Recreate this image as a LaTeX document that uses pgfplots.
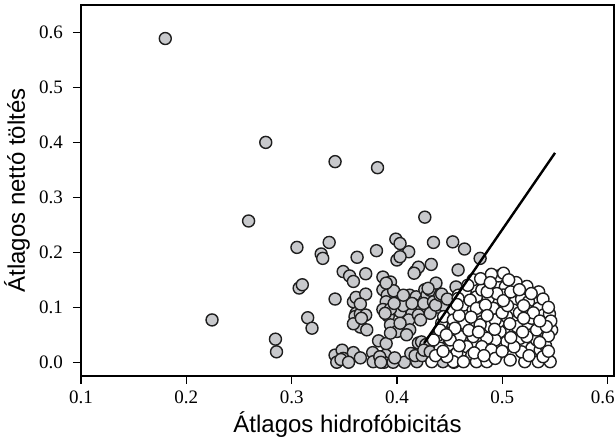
\documentclass[border=0pt]{standalone}
\usepackage{pgfplots}
\pgfplotsset{compat=1.18}
\usepackage{pgfplotstable}
\usepackage{fontspec}
\setmainfont{Liberation Serif}
\newfontfamily\arialf{Liberation Sans}
\definecolor{grayfill}{RGB}{200,201,204}
\definecolor{edge}{RGB}{30,30,30}

\pgfplotstableread{
x y
0.180 0.589
0.2244 0.077
0.2591 0.257
0.2754 0.400
0.2846 0.042
0.2856 0.019
0.3071 0.135
0.3101 0.141
0.3050 0.209
0.3152 0.081
0.3193 0.062
0.3280 0.197
0.3295 0.189
0.3356 0.218
0.3412 0.365
0.3815 0.354
0.3621 0.191
0.3805 0.203
0.3989 0.224
0.3999 0.186
0.4111 0.201
0.4029 0.216
0.4264 0.264
0.4346 0.218
0.4529 0.219
0.4641 0.206
0.4789 0.189
0.4325 0.178
0.4172 0.165
0.4203 0.173
0.4580 0.168
0.3489 0.165
0.3550 0.157
0.3586 0.147
0.3703 0.161
0.3866 0.155
0.3938 0.146
0.4162 0.162
0.3412 0.115
0.3586 0.110
0.3611 0.118
0.3703 0.124
0.3866 0.132
0.3907 0.122
0.3968 0.130
0.3897 0.110
0.3978 0.104
0.4121 0.122
0.4182 0.119
0.4264 0.132
0.4264 0.113
0.4121 0.104
0.4223 0.104
0.3611 0.089
0.3866 0.096
0.4029 0.092
0.4142 0.089
0.4284 0.092
0.3601 0.083
0.3652 0.088
0.3652 0.064
0.3586 0.070
0.3917 0.084
0.3938 0.068
0.3999 0.056
0.4111 0.077
0.4203 0.086
0.4121 0.059
0.3825 0.039
0.3412 0.013
0.3479 0.022
0.3489 0.007
0.3586 0.0175
0.3769 0.0175
0.3774 0.001
0.3892 0.013
0.3876 0.000
0.3963 0.000
0.4070 0.000
0.4203 0.035
0.4233 0.037
0.4131 0.016
0.4188 0.001
0.3428 0.000
0.3468 0.005
0.3540 0.000
0.3652 0.008
0.3713 0.059
0.3703 0.086
0.3662 0.080
0.3652 0.106
0.3836 0.010
0.3846 0.000
0.3897 0.034
0.3938 0.053
0.3978 0.008
0.4091 0.050
0.4172 0.012
0.4239 0.012
0.4274 0.032
0.4310 0.030
0.4407 0.012
0.4539 0.000
0.4611 0.069
0.4397 0.100
0.4448 0.103
0.3938 0.097
0.4060 0.103
0.3897 0.144
0.4142 0.107
0.3973 0.107
0.4284 0.122
0.4315 0.131
0.4254 0.107
0.4346 0.110
0.3887 0.089
0.4223 0.077
0.4315 0.089
0.4029 0.071
0.4366 0.104
0.4407 0.122
0.4519 0.071
0.4254 0.022
0.4315 0.019
0.4437 0.001
0.4370 0.144
0.4295 0.1345
0.4424 0.124
0.4060 0.122
0.4560 0.137
0.4478 0.115
0.4029 0.192
}\graydata

\pgfplotstableread{
x y
0.4964 0.157
0.5011 0.162
0.5029 0.1375
0.5011 0.1224
0.4947 0.107
0.5121 0.110
0.5182 0.1145
0.5248 0.110
0.5341 0.098
0.5391 0.086
0.5106 0.095
0.5233 0.095
0.5011 0.077
0.4917 0.086
0.5121 0.062
0.5264 0.0496
0.5468 0.0587
0.4978 0.0556
0.5042 0.0375
0.5169 0.0436
0.5280 0.0255
0.5359 0.0224
0.4947 0.013
0.5074 0.004
0.5213 0.001
0.5341 0.001
0.5454 0.001
0.5182 0.019
0.5325 0.0405
0.4932 0.0405
0.4583 0.122
0.4662 0.119
0.4754 0.119
0.4866 0.116
0.4947 0.125
0.4631 0.104
0.4723 0.095
0.4805 0.101
0.4916 0.098
0.4519 0.089
0.4424 0.071
0.4631 0.071
0.4805 0.074
0.4884 0.065
0.4964 0.074
0.4394 0.0496
0.4505 0.0527
0.4601 0.0466
0.4723 0.0466
0.4853 0.0436
0.4488 0.0315
0.4662 0.0284
0.4805 0.0284
0.4896 0.0224
0.4410 0.0255
0.4567 0.0164
0.4710 0.0133
0.4330 0.001
0.4535 0.001
0.4631 0.001
0.4754 0.001
0.4853 0.001
0.4932 0.007
0.4473 0.010
0.4723 0.150
0.4805 0.1315
0.4647 0.128
0.4580 0.116
0.4694 0.113
0.4535 0.095
0.4754 0.098
0.4839 0.104
0.4443 0.083
0.4535 0.077
0.4789 0.068
0.4932 0.077
0.5042 0.083
0.5137 0.065
0.5280 0.080
0.5325 0.0587
0.5233 0.0466
0.4407 0.0587
0.4505 0.0405
0.4346 0.0405
0.4366 0.012
0.4437 0.020
0.4590 0.030
0.4733 0.017
0.4825 0.012
0.4998 0.020
0.5111 0.028
0.5253 0.012
0.5386 0.010
0.5410 0.030
0.5437 0.048
0.5080 0.045
0.4682 0.058
0.4774 0.055
0.4927 0.060
0.4550 0.062
0.4468 0.050
0.4590 0.085
0.4703 0.082
0.4856 0.085
0.4998 0.090
0.5162 0.090
0.5294 0.090
0.5447 0.088
0.5049 0.103
0.5202 0.103
0.4672 0.140
0.4856 0.128
0.5131 0.145
0.5233 0.138
0.5345 0.128
0.5009 0.112
0.4570 0.105
0.4794 0.152
0.4896 0.160
0.5060 0.150
0.4886 0.145
0.5080 0.128
0.5162 0.132
0.5274 0.125
0.5386 0.115
0.5437 0.100
0.5460 0.075
0.5417 0.065
0.5355 0.075
0.5202 0.080
0.5070 0.070
0.5192 0.055
0.5355 0.036
0.5437 0.020
}\whitedata

\begin{document}
\begin{tikzpicture}
\begin{axis}[
  at={(0,0)}, anchor=south west,
  scale only axis,
  width=266.5pt, height=185.5pt,
  xmin=0.1, xmax=0.606,
  ymin=-0.025, ymax=0.65,
  xtick={0.1,0.2,0.3,0.4,0.5},
  extra x ticks={0.6},
  extra x tick style={xticklabel style={xshift=-2.5pt}},
  ytick={0,0.1,0.2,0.3,0.4,0.5,0.6},
  tick pos=left,
  tick align=outside,
  major tick length=4pt,
  axis line style={line width=0.6pt, black},
  every tick/.style={black, line width=0.6pt},
  /pgf/number format/assume math mode=true,
  xticklabel style={/pgf/number format/.cd, fixed, precision=1, fixed zerofill, /tikz/.cd, font=\fontsize{9.5}{11}\selectfont},
  yticklabel style={/pgf/number format/.cd, fixed, precision=1, fixed zerofill, /tikz/.cd, font=\fontsize{9.5}{11}\selectfont, xshift=-1.5pt},
  every axis x label/.style={at={(axis description cs:0.5,0)}, anchor=center, yshift=-24.5pt},
  every axis y label/.style={at={(axis description cs:0,0.5)}, anchor=center, rotate=90, yshift=32pt},
  xlabel={\arialf\fontsize{12}{14}\selectfont Átlagos hidrofóbicitás},
  ylabel={\arialf\fontsize{12}{14}\selectfont Átlagos nettó töltés},
  clip marker paths=true,
]
\addplot[only marks, mark=*, mark size=3.0pt, mark options={fill=grayfill, draw=edge, line width=0.7pt}] table[x=x,y=y] {\graydata};
\addplot[only marks, mark=*, mark size=3.0pt, mark options={fill=white, draw=edge, line width=0.7pt}] table[x=x,y=y] {\whitedata};
\addplot[black, line width=1.2pt] coordinates {(0.4258,0.035) (0.55,0.3809)};
\end{axis}
\pgfresetboundingbox
\path[use as bounding box] (-40.5pt,-30.5pt) rectangle (267pt,188pt);
\end{tikzpicture}
\end{document}
